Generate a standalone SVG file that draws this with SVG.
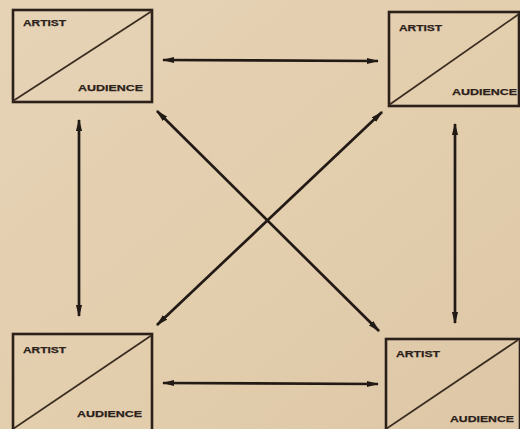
<svg xmlns="http://www.w3.org/2000/svg" width="520" height="429" viewBox="0 0 520 429">
<style>
.box{fill:none;stroke:#2b211a;stroke-width:2.6}
.diag{stroke:#3a2c20;stroke-width:1.7}
.lbl{font-family:"Liberation Sans",Arial,sans-serif;font-weight:bold;font-size:9.5px;fill:#2b211a;stroke:#2b211a;stroke-width:0.25}
.con{stroke:#221a14;stroke-width:2.7;fill:none;marker-start:url(#ah);marker-end:url(#ah)}
</style>
<defs>
<marker id="ah" viewBox="0 0 10 6" refX="9" refY="3" markerWidth="4.6" markerHeight="2.8" orient="auto-start-reverse" markerUnits="strokeWidth">
<path d="M0,0.5 L10,3 L0,5.5 Z" fill="#221a14"/>
</marker>
<linearGradient id="bg" x1="0" y1="0" x2="1" y2="1">
<stop offset="0" stop-color="#e6d3b6"/>
<stop offset="0.5" stop-color="#e3ceae"/>
<stop offset="1" stop-color="#ddc7a6"/>
</linearGradient>
</defs>
<rect width="520" height="429" fill="url(#bg)"/>
<g id="connectors">
<line class="con" x1="163" y1="60" x2="378" y2="61"/>
<line class="con" x1="163" y1="383" x2="378" y2="384"/>
<line class="con" x1="79" y1="120" x2="79" y2="316"/>
<line class="con" x1="455" y1="124" x2="455" y2="323"/>
<line class="con" x1="157" y1="111" x2="379" y2="331"/>
<line class="con" x1="382" y1="112" x2="157" y2="325"/>
</g>
<g id="node-tl">
<rect class="box" x="13" y="10" width="139" height="92"/>
<line class="diag" x1="13" y1="101" x2="152" y2="11"/>
<text class="lbl" x="23" y="26" textLength="43" lengthAdjust="spacingAndGlyphs">ARTIST</text>
<text class="lbl" x="78" y="91" textLength="65" lengthAdjust="spacingAndGlyphs">AUDIENCE</text>
</g>
<g id="node-tr">
<rect class="box" x="389" y="12" width="130" height="94"/>
<line class="diag" x1="389" y1="105" x2="519" y2="14"/>
<text class="lbl" x="399" y="31" textLength="43" lengthAdjust="spacingAndGlyphs">ARTIST</text>
<text class="lbl" x="452" y="95" textLength="65" lengthAdjust="spacingAndGlyphs">AUDIENCE</text>
</g>
<g id="node-bl">
<rect class="box" x="13" y="334" width="139" height="100"/>
<line class="diag" x1="13" y1="429" x2="152" y2="335"/>
<text class="lbl" x="23" y="353" textLength="43" lengthAdjust="spacingAndGlyphs">ARTIST</text>
<text class="lbl" x="77" y="417" textLength="65" lengthAdjust="spacingAndGlyphs">AUDIENCE</text>
</g>
<g id="node-br">
<rect class="box" x="386" y="339" width="134" height="100"/>
<line class="diag" x1="386" y1="429" x2="518" y2="340"/>
<text class="lbl" x="396" y="357" textLength="44" lengthAdjust="spacingAndGlyphs">ARTIST</text>
<text class="lbl" x="450" y="422" textLength="64" lengthAdjust="spacingAndGlyphs">AUDIENCE</text>
</g>
</svg>
